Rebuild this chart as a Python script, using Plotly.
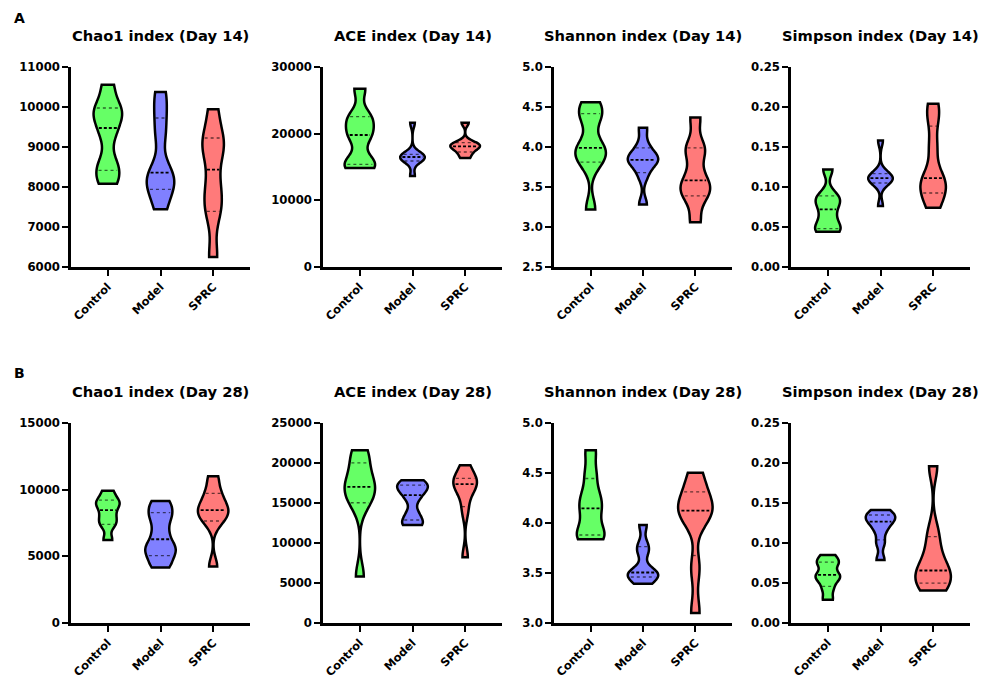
import numpy as np
import plotly.graph_objects as go

groups = ["Control", "Model", "SPRC"]
colors = ["#66FF66", "#8080FF", "#FF7A7A"]

titles = ["Chao1 index (Day 14)", "ACE index (Day 14)", "Shannon index (Day 14)", "Simpson index (Day 14)",
          "Chao1 index (Day 28)", "ACE index (Day 28)", "Shannon index (Day 28)", "Simpson index (Day 28)"]

# ---- sample values ----
chao1_d14 = {"Control": [8083, 8350, 8620, 9300, 9650, 9900, 10000, 10558],
             "Model": [7442, 7900, 8068, 8250, 8466, 9300, 9867, 10375],
             "SPRC": [6250, 7300, 7668, 8100, 8766, 9100, 9267, 9942]}
ace_d14 = {"Control": [14850, 15200, 16000, 19300, 20300, 21900, 22767, 26750],
           "Model": [13650, 15800, 16200, 16400, 16600, 16700, 16967, 21650],
           "SPRC": [16350, 17100, 17700, 17950, 18250, 18400, 18733, 21650]}
shannon_d14 = {"Control": [3.22, 3.78, 3.90, 3.95, 4.03, 4.35, 4.44, 4.56],
               "Model": [3.28, 3.64, 3.80, 3.82, 3.86, 3.90, 4.02, 4.24],
               "SPRC": [3.06, 3.36, 3.48, 3.50, 3.666, 3.93, 4.01, 4.37]}
simpson_d14 = {"Control": [0.044, 0.046, 0.054, 0.066, 0.078, 0.084, 0.0907, 0.122],
               "Model": [0.0763, 0.104, 0.108, 0.110, 0.112, 0.113, 0.118, 0.158],
               "SPRC": [0.074, 0.090, 0.100, 0.105, 0.117, 0.150, 0.1847, 0.204]}
chao1_d28 = {"Control": [6230, 7300, 7700, 8200, 8746, 9000, 9293, 9918],
             "Model": [4162, 4900, 5536, 5800, 6760, 7800, 8431, 9145],
             "SPRC": [4236, 7500, 8104, 8300, 8646, 9200, 9892, 11015]}
ace_d28 = {"Control": [5814, 14700, 16032, 16600, 17454, 18500, 20523, 21595],
           "Model": [12251, 12600, 13696, 15500, 16478, 16900, 17347, 17858],
           "SPRC": [8223, 14000, 16144, 17000, 17720, 17800, 18155, 19727]}
shannon_d28 = {"Control": [3.837, 3.86, 3.94, 4.10, 4.192, 4.30, 4.493, 4.728],
               "Model": [3.392, 3.45, 3.49, 3.50, 3.51, 3.70, 3.785, 3.98],
               "SPRC": [3.10, 3.55, 4.05, 4.10, 4.146, 4.20, 4.349, 4.502]}
simpson_d28 = {"Control": [0.0291, 0.043, 0.0538, 0.058, 0.0624, 0.074, 0.0767, 0.0851],
               "Model": [0.0789, 0.100, 0.1152, 0.124, 0.1294, 0.132, 0.136, 0.1412],
               "SPRC": [0.0407, 0.047, 0.058, 0.063, 0.0682, 0.090, 0.114, 0.196]}

panels = [chao1_d14, ace_d14, shannon_d14, simpson_d14,
          chao1_d28, ace_d28, shannon_d28, simpson_d28]

# y tick values per panel
yticks_chao1_d14 = [6000, 7000, 8000, 9000, 10000, 11000]
yticks_ace_d14 = [0, 10000, 20000, 30000]
yticks_shannon_d14 = [2.5, 3.0, 3.5, 4.0, 4.5, 5.0]
yticks_simpson = [0.00, 0.05, 0.10, 0.15, 0.20, 0.25]
yticks_chao1_d28 = [0, 5000, 10000, 15000]
yticks_ace_d28 = [0, 5000, 10000, 15000, 20000, 25000]
yticks_shannon_d28 = [3.0, 3.5, 4.0, 4.5, 5.0]
yticks = [yticks_chao1_d14, yticks_ace_d14, yticks_shannon_d14, yticks_simpson,
          yticks_chao1_d28, yticks_ace_d28, yticks_shannon_d28, yticks_simpson]
ytick_fmt = ["{:.0f}", "{:.0f}", "{:.1f}", "{:.2f}", "{:.0f}", "{:.0f}", "{:.1f}", "{:.2f}"]

# ---- styling / layout ----
W, H = 983, 678
FONT = "DejaVu Sans"
col_px = [(71, 250), (323, 502), (554, 732), (791, 970)]
row_px = [(67, 267), (423, 623)]
title_y_px = [36, 391]
xrange_ = [-0.7, 2.7]
# approximate visual violin widths in pixels
violin_px = [[31, 30, 24], [33, 27, 32], [33, 33, 32], [28, 27, 28],
             [26, 33, 33], [33, 33, 26], [30, 33, 37], [27, 32, 38]]
bw_factor = 0.47
LW = 2.5

fig = go.Figure()
layout = dict(template="none", width=W, height=H, margin=dict(l=0, r=0, t=0, b=0, autoexpand=False),
              paper_bgcolor="white", plot_bgcolor="white",
              showlegend=False, violinmode="overlay", annotations=[])


def kde(vals, bw, x):
    vals = np.asarray(vals, float)
    z = (np.asarray(x)[..., None] - vals) / bw
    return np.exp(-0.5 * z ** 2).sum(-1) / (len(vals) * bw * np.sqrt(2 * np.pi))


for i, data in enumerate(panels):
    r, c = divmod(i, 4)
    xs = "" if i == 0 else str(i + 1)
    x0p, x1p = col_px[c]
    y0p, y1p = row_px[r]
    px_per_unit = (x1p - x0p) / (xrange_[1] - xrange_[0])
    for k, g in enumerate(groups):
        vals = np.array(data[g], float)
        n = len(vals)
        sd = vals.std(ddof=1)
        bw = 1.059 * sd * n ** -0.2 * bw_factor
        wid = (violin_px[i][k] - LW) / px_per_unit
        fig.add_trace(go.Violin(
            x=[k] * n, y=vals, xaxis="x" + xs, yaxis="y" + xs,
            fillcolor=colors[k], line=dict(color="black", width=LW),
            spanmode="hard", bandwidth=bw, width=wid, scalemode="width",
            scalegroup=f"g{i}_{k}", points=False, box_visible=False,
            meanline_visible=False, hoverinfo="skip", opacity=1, name=g))
        # median & quartile lines
        span = vals.max() - vals.min()
        m = int(np.ceil(span / (bw / 3)))
        grid = np.linspace(vals.min(), vals.max(), m + 1)
        maxkde = kde(vals, bw, grid).max()
        q1, med, q3 = np.percentile(vals, [25, 50, 75], method="weibull")
        for q, dash, lw, colr in [(q1, "dot", 1.3, "rgba(0,0,0,0.6)"),
                                  (med, "3px,2px", 1.8, "black"),
                                  (q3, "dot", 1.3, "rgba(0,0,0,0.6)")]:
            hw = wid / 2 * kde(vals, bw, q) / maxkde * 0.82
            fig.add_trace(go.Scatter(x=[k - hw, k + hw], y=[q, q], mode="lines",
                                     xaxis="x" + xs, yaxis="y" + xs,
                                     line=dict(color=colr, width=lw, dash=dash),
                                     hoverinfo="skip"))
    yt = yticks[i]
    layout["xaxis" + xs] = dict(
        domain=[x0p / W, x1p / W], anchor="y" + xs, range=xrange_, automargin=False,
        showline=True, linecolor="black", linewidth=LW, mirror=False,
        ticks="outside", ticklen=6, tickwidth=2.2, tickcolor="black",
        tickvals=[0, 1, 2], ticktext=groups, tickangle=-45,
        tickfont=dict(family=FONT, size=11.4, color="black", weight="bold"),
        showgrid=False, zeroline=False, fixedrange=True)
    layout["yaxis" + xs] = dict(
        domain=[1 - y1p / H, 1 - y0p / H], anchor="x" + xs, automargin=False,
        range=[yt[0], yt[-1]],
        showline=True, linecolor="black", linewidth=LW,
        ticks="outside", ticklen=6, tickwidth=2.2, tickcolor="black",
        tickvals=yt, ticktext=[ytick_fmt[i].format(v) for v in yt],
        tickfont=dict(family=FONT, size=11.7, color="black", weight="bold"),
        showgrid=False, zeroline=False, fixedrange=True)
    layout["annotations"].append(dict(
        text=titles[i], xref="paper", yref="paper",
        x=(x0p + x1p) / 2 / W, y=1 - title_y_px[r] / H,
        xanchor="center", yanchor="middle", showarrow=False,
        font=dict(family=FONT, size=14.7, color="black", weight="bold")))

for lab, ypx in [("A", 18), ("B", 373)]:
    layout["annotations"].append(dict(
        text=lab, xref="paper", yref="paper", x=19 / W, y=1 - ypx / H,
        xanchor="center", yanchor="middle", showarrow=False,
        font=dict(family=FONT, size=14, color="black", weight="bold")))

fig.update_layout(**layout)
fig.write_html("out.html", config={"displayModeBar": False},
               post_script="document.body.style.margin='0';document.body.style.padding='0';")
